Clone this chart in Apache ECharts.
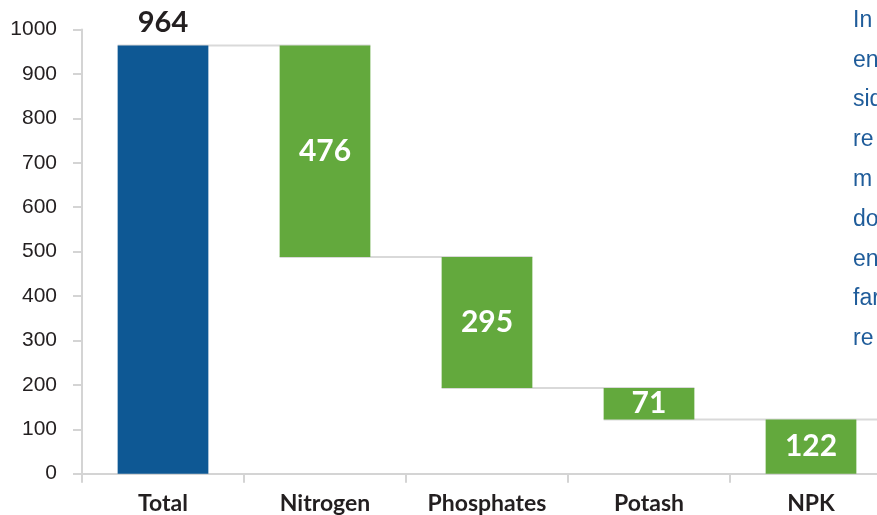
<!DOCTYPE html>
<html>
<head>
<meta charset="utf-8">
<script src="https://cdn.jsdelivr.net/npm/echarts@6/dist/echarts.min.js"></script>
<style>html,body{margin:0;padding:0;background:#fff;overflow:hidden;width:877px;height:515px;}#c{width:892px;height:515px;}</style>
</head>
<body>
<div id="c"></div>
<script>
var categories = ['Total', 'Nitrogen', 'Phosphates', 'Potash', 'NPK'];
var values = [964, 476, 295, 71, 122];
var yTicks = [0, 100, 200, 300, 400, 500, 600, 700, 800, 900, 1000];
var sideText = ['In', 'en', 'sid', 're', 'm', 'do', 'en', 'far', 're'];

// waterfall bases: first bar is the total, following bars step down from it
var bases = [0];
var level = values[0];
for (var i = 1; i < values.length; i++) {
  level -= values[i];
  bases.push(level);
}
// connector levels: running total after each bar
var connectors = [];
var run = values[0];
connectors.push([0, run]);
for (var k = 1; k < values.length - 1; k++) {
  run -= values[k];
  connectors.push([k, run]);
}

var BLUE = '#0e5894', GREEN = '#63a93d', AXIS = '#d4d4d4', TXT = '#231f20';

var chart = echarts.init(document.getElementById('c'), null, {renderer: 'canvas'});
var graphics = sideText.map(function (t, i) {
  return {
    type: 'text', left: 853, top: 9 + i * 39.8,
    style: {text: t, fill: '#1f5c9a', fontSize: 23, fontFamily: 'Liberation Sans'}
  };
});

chart.setOption({
  animation: false,
  grid: {left: 82, right: 0, top: 29.5, bottom: 41.3, containLabel: false},
  graphic: graphics,
  xAxis: {
    type: 'category', data: categories,
    axisLine: {lineStyle: {color: AXIS, width: 2}},
    axisTick: {show: true, length: 9, lineStyle: {color: AXIS, width: 2}},
    axisLabel: {color: TXT, fontFamily: 'Lato', fontWeight: 'bold', fontSize: 23, margin: 18}
  },
  yAxis: {
    type: 'value', min: yTicks[0], max: yTicks[yTicks.length - 1], interval: 100,
    splitLine: {show: false},
    axisLine: {show: true, lineStyle: {color: AXIS, width: 2}},
    axisTick: {show: true, length: 9, lineStyle: {color: AXIS, width: 2}},
    axisLabel: {color: TXT, fontFamily: 'Liberation Sans', fontSize: 21, margin: 25,
      formatter: function (v) { return String(v); }}
  },
  series: [
    {
      type: 'custom', z: 1, silent: true, clip: false,
      data: connectors,
      renderItem: function (params, api) {
        var idx = api.value(0), lv = api.value(1);
        var p1 = api.coord([idx, lv]);
        var p2 = api.coord([idx + 1, lv]);
        var band = api.size([1, 0])[0];
        var x1 = p1[0] - band * 0.28;
        var x2 = (idx + 1 === categories.length - 1) ? p2[0] + band * 0.5 : p2[0] + band * 0.28;
        return {type: 'line', shape: {x1: x1, y1: p1[1], x2: x2, y2: p1[1]},
          style: {stroke: '#d9d9d9', lineWidth: 2}};
      }
    },
    {
      type: 'bar', stack: 'w', z: 2, barWidth: '56%', silent: true,
      itemStyle: {color: 'transparent'},
      data: bases
    },
    {
      type: 'bar', stack: 'w', z: 3, barWidth: '56%',
      data: values.map(function (v, i) {
        return {
          value: v,
          itemStyle: {color: i === 0 ? BLUE : GREEN},
          label: i === 0 ? {show: true, position: 'top', distance: 8, color: TXT, fontSize: 29}
                         : {show: true, position: 'inside', color: '#fff', fontSize: 30}
        };
      }),
      label: {show: true, fontFamily: 'Lato', fontWeight: 'bold'}
    }
  ]
});
</script>
</body>
</html>
